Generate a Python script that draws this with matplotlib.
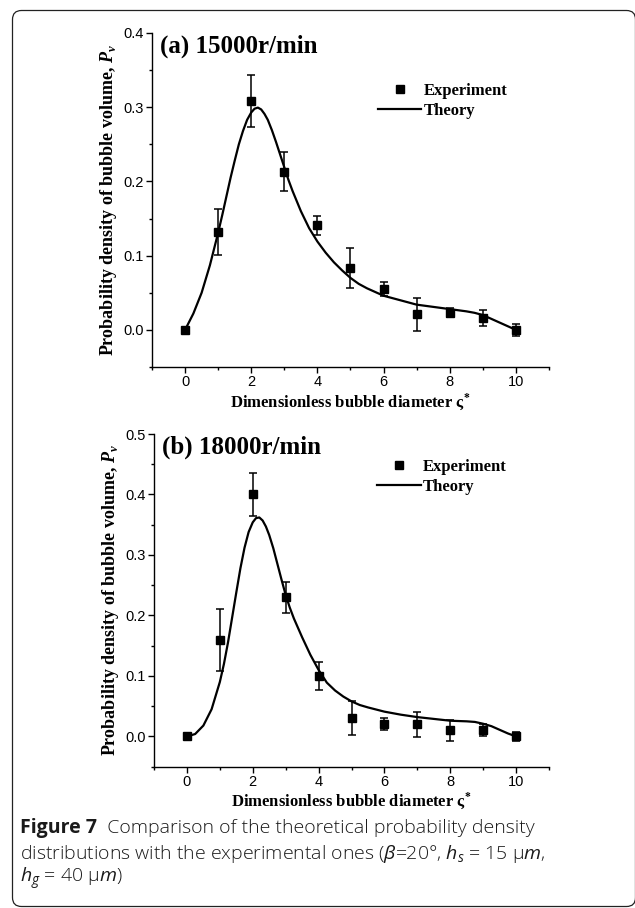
import matplotlib
matplotlib.use("Agg")
import matplotlib.pyplot as plt
from matplotlib.patches import FancyBboxPatch
from matplotlib.lines import Line2D
from matplotlib.ticker import MultipleLocator, FormatStrFormatter

# fonts for the math bits: bold serif on the axes, light sans in the caption
plt.rcParams['mathtext.fontset'] = 'custom'
plt.rcParams['mathtext.rm'] = 'Open Sans'
plt.rcParams['mathtext.it'] = 'Open Sans:italic'
plt.rcParams['mathtext.bf'] = 'Liberation Serif:bold'
plt.rcParams['mathtext.bfit'] = 'Liberation Serif:bold:italic'

# ---- experiment, 15000 r/min ----
exp_x = [0, 1, 2, 3, 4, 5, 6, 7, 8, 9, 10]
exp_a = [0.000, 0.132, 0.308, 0.213, 0.141, 0.083, 0.055, 0.021, 0.023, 0.016, 0.000]
err_a = [0.002, 0.031, 0.035, 0.026, 0.013, 0.027, 0.009, 0.022, 0.006, 0.011, 0.008]

# ---- experiment, 18000 r/min ----
exp_b = [0.000, 0.160, 0.400, 0.230, 0.100, 0.030, 0.020, 0.020, 0.010, 0.010, 0.000]
err_b = [0.002, 0.051, 0.035, 0.026, 0.023, 0.028, 0.010, 0.021, 0.017, 0.010, 0.008]

# ---- theory curves ----
th_x = [0, 0.25, 0.5, 0.75, 1.0, 1.125, 1.25, 1.375, 1.5, 1.625, 1.75, 1.875,
        2.0, 2.1, 2.2, 2.3, 2.4, 2.5, 2.625, 2.75, 2.875, 3.0, 3.125, 3.25,
        3.5, 3.75, 4.0, 4.25, 4.5, 4.75, 5.0, 5.25, 5.5, 6.0, 6.5, 7.0, 7.5,
        8.0, 8.5, 8.75, 9.0, 9.25, 9.5, 9.75, 10.0]
th_a = [0.000, 0.022, 0.050, 0.087, 0.131, 0.155, 0.180, 0.205, 0.228, 0.250,
        0.268, 0.283, 0.293, 0.298, 0.2995, 0.297, 0.291, 0.283, 0.269, 0.253,
        0.236, 0.219, 0.202, 0.187, 0.160, 0.137, 0.119, 0.104, 0.091, 0.080,
        0.070, 0.062, 0.056, 0.046, 0.040, 0.034, 0.031, 0.028, 0.025, 0.023,
        0.020, 0.015, 0.010, 0.005, 0.000]
th_b = [0.000, 0.004, 0.018, 0.045, 0.090, 0.120, 0.156, 0.197, 0.238, 0.278,
        0.312, 0.338, 0.354, 0.361, 0.362, 0.357, 0.347, 0.333, 0.311, 0.285,
        0.259, 0.234, 0.213, 0.195, 0.164, 0.135, 0.110, 0.089, 0.076, 0.066,
        0.058, 0.052, 0.048, 0.041, 0.036, 0.032, 0.029, 0.026, 0.025, 0.024,
        0.021, 0.017, 0.011, 0.005, 0.000]

W, H = 635, 908
fig = plt.figure(figsize=(W / 100, H / 100), dpi=100)

# background axes in pixel units for the rounded frame
bg = fig.add_axes([0, 0, 1, 1])
bg.set_xlim(0, W)
bg.set_ylim(H, 0)
bg.axis('off')
bg.add_patch(FancyBboxPatch((12.5, 10.5), 623, 896,
                            boxstyle="round,pad=0,rounding_size=9",
                            fill=False, edgecolor='#222222', linewidth=0.9))

serif = 'Liberation Serif'
sans = 'Liberation Sans'


def panel(rect, exp_y, err_y, th_y, ymax, title, leg_anchor):
    ax = fig.add_axes(rect)
    ax.errorbar(exp_x, exp_y, yerr=err_y, fmt='s', color='black', ms=5.5,
                ecolor='black', elinewidth=1.1, capsize=3, capthick=1.1, zorder=3)
    ax.plot(th_x, th_y, color='black', lw=1.6, zorder=2, solid_joinstyle='round')

    ax.set_xlim(-1, 11)
    ax.set_ylim(-0.05, ymax)
    ax.spines['top'].set_visible(False)
    ax.spines['right'].set_visible(False)
    for s in ('left', 'bottom'):
        ax.spines[s].set_linewidth(1.0)
    ax.xaxis.set_major_locator(MultipleLocator(2))
    ax.xaxis.set_minor_locator(MultipleLocator(1))
    ax.yaxis.set_major_locator(MultipleLocator(0.1))
    ax.yaxis.set_minor_locator(MultipleLocator(0.05))
    ax.yaxis.set_major_formatter(FormatStrFormatter('%.1f'))
    ax.tick_params(which='major', length=4, width=1.0, labelsize=10.5, pad=2)
    ax.tick_params(which='minor', length=2.2, width=1.0)
    for lab in ax.get_xticklabels() + ax.get_yticklabels():
        lab.set_fontfamily(sans)

    ax.set_xlabel(r"Dimensionless bubble diameter ς$^{\mathbf{*}}$",
                  fontfamily=serif, fontweight='bold', fontsize=12, labelpad=1)
    ax.set_ylabel(r"Probability density of bubble volume, $\mathbfit{P}_{\mathbfit{v}}$",
                  fontfamily=serif, fontweight='bold', fontsize=13, labelpad=3)
    ax.text(0.02, 0.995, title, transform=ax.transAxes, ha='left', va='top',
            fontfamily=serif, fontweight='bold', fontsize=18)

    handles = [Line2D([], [], ls='none', marker='s', color='black', ms=5.5),
               Line2D([], [], color='black', lw=1.6)]
    ax.legend(handles, ['Experiment', 'Theory'], loc='upper left',
              bbox_to_anchor=leg_anchor, frameon=False, borderpad=0,
              borderaxespad=0, handlelength=2.6, handletextpad=0.15,
              labelspacing=0.25, prop={'family': serif, 'weight': 'bold', 'size': 12})
    return ax


panel([152 / W, 1 - 367 / H, 397 / W, 334 / H], exp_a, err_a, th_a, 0.4,
      "(a) 15000r/min", (0.569, 0.85))
panel([154 / W, 1 - 766.7 / H, 395 / W, 332.7 / H], exp_b, err_b, th_b, 0.5,
      "(b) 18000r/min", (0.565, 0.925))

# caption
cap_kw = dict(fontfamily='Open Sans', fontsize=14, color='#1a1a1a', va='center')
t1 = fig.text(20 / W, 1 - 828 / H, "Figure 7", fontweight='bold', **cap_kw)
fig.add_artist(plt.Annotation("  Comparison of the theoretical probability density",
                              xy=(1, 0.5), xycoords=t1, ha='left',
                              fontweight='light', **cap_kw))
fig.text(20 / W, 1 - 854 / H,
         r"distributions with the experimental ones ($\beta$=20°, $h_s$ = 15 μ$m$,",
         fontweight='light', **cap_kw)
fig.text(20 / W, 1 - 879 / H, r"$h_g$ = 40 μ$m$)",
         fontweight='light', **cap_kw)

fig.savefig("out.png", dpi=100)
